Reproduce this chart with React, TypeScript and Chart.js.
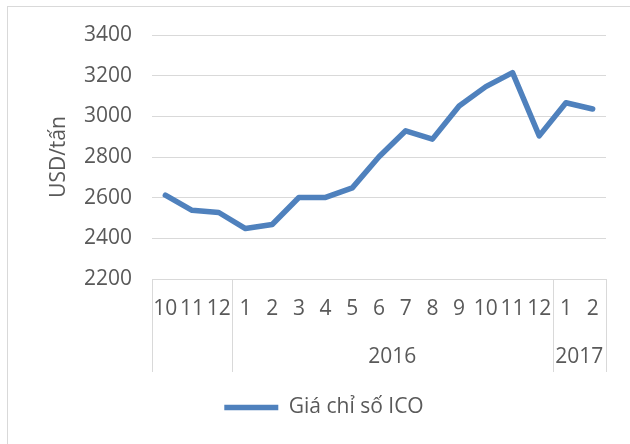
import React, { useEffect, useRef } from "react";
import { Chart, registerables } from "chart.js";

Chart.register(...registerables);

const months: string[] = ["10", "11", "12", "1", "2", "3", "4", "5", "6", "7", "8", "9", "10", "11", "12", "1", "2"];
const years: string[] = ["", "", "", "2016", "2016", "2016", "2016", "2016", "2016", "2016", "2016", "2016", "2016", "2016", "2016", "2017", "2017"];
const icoPrices: number[] = [2612, 2538, 2527, 2448, 2468, 2601, 2601, 2648, 2801, 2929, 2888, 3051, 3146, 3215, 2904, 3067, 3036];
const seriesName = "Giá chỉ số ICO";
const yTitle = "USD/tấn";
const yMin = 2200;
const yMax = 3400;
const yStep = 200;

const FONT = "'Open Sans', 'Noto Sans', sans-serif";
const TEXT = "#595959";
const GRID = "#d9d9d9";
const LINE = "#4F81BD";

const framePlugin = {
  id: "frame",
  beforeDraw(chart: any) {
    const ctx = chart.ctx;
    ctx.save();
    ctx.fillStyle = "#ffffff";
    ctx.fillRect(0, 0, chart.width, chart.height);
    ctx.strokeStyle = GRID;
    ctx.lineWidth = 1;
    ctx.strokeRect(7.5, 6.5, chart.width + 20, chart.height + 20);
    ctx.restore();
  },
};

const groupPlugin = {
  id: "yearGroups",
  afterDraw(chart: any) {
    const xs = chart.scales.x;
    const ctx = chart.ctx;
    const n = months.length;
    const half = (xs.getPixelForValue(1) - xs.getPixelForValue(0)) / 2;
    const groups: { label: string; start: number; end: number }[] = [];
    for (let i = 0; i < n; i++) {
      const last = groups[groups.length - 1];
      if (last && last.label === years[i]) last.end = i;
      else groups.push({ label: years[i], start: i, end: i });
    }
    ctx.save();
    ctx.strokeStyle = GRID;
    ctx.lineWidth = 1;
    const bounds = new Set<number>();
    groups.forEach((g) => {
      bounds.add(Math.round(xs.getPixelForValue(g.start) - half));
      bounds.add(Math.round(xs.getPixelForValue(g.end) + half));
    });
    bounds.forEach((bx) => {
      ctx.beginPath();
      ctx.moveTo(bx + 0.5, xs.top);
      ctx.lineTo(bx + 0.5, xs.bottom);
      ctx.stroke();
    });
    ctx.fillStyle = TEXT;
    ctx.font = `21px ${FONT}`;
    ctx.textAlign = "center";
    ctx.textBaseline = "middle";
    groups.forEach((g) => {
      if (!g.label) return;
      const cx = (xs.getPixelForValue(g.start) + xs.getPixelForValue(g.end)) / 2;
      ctx.fillText(g.label, cx, xs.top + 78);
    });
    ctx.restore();
  },
};

export default function App() {
  const ref = useRef<HTMLCanvasElement | null>(null);
  useEffect(() => {
    if (!ref.current) return;
    const chart = new Chart(ref.current, {
      type: "line",
      data: {
        labels: months,
        datasets: [
          {
            label: seriesName,
            data: icoPrices,
            borderColor: LINE,
            backgroundColor: LINE,
            borderWidth: 5.5,
            pointRadius: 0,
            pointHoverRadius: 0,
            tension: 0,
            borderCapStyle: "round",
            borderJoinStyle: "round",
          },
        ],
      },
      options: {
        animation: false,
        responsive: false,
        devicePixelRatio: 1,
        layout: { padding: { left: 42, right: 24, top: 35, bottom: 16 } },
        plugins: {
          tooltip: { enabled: false },
          legend: {
            position: "bottom",
            labels: {
              usePointStyle: true,
              pointStyle: "line",
              pointStyleWidth: 54,
              padding: 25,
              color: TEXT,
              font: { family: FONT, size: 21 },
            },
          },
        },
        scales: {
          x: {
            type: "category",
            offset: true,
            grid: { display: false, drawTicks: false },
            border: { display: true, color: GRID, width: 1 },
            ticks: {
              autoSkip: false,
              maxRotation: 0,
              minRotation: 0,
              padding: 17,
              color: TEXT,
              font: { family: FONT, size: 21 },
            },
            afterFit(scale: any) {
              scale.height = 93;
            },
          },
          y: {
            min: yMin,
            max: yMax,
            grid: { color: GRID, lineWidth: 1, drawTicks: false },
            border: { display: false },
            ticks: {
              stepSize: yStep,
              padding: 20,
              color: TEXT,
              font: { family: FONT, size: 21 },
              callback: (v: any) => String(v),
            },
            title: {
              display: true,
              text: yTitle,
              color: TEXT,
              font: { family: FONT, size: 21 },
              padding: { top: 4, bottom: 0 },
            },
            afterFit(scale: any) {
              scale.width = 110;
            },
          },
        },
      },
      plugins: [framePlugin, groupPlugin],
    });
    return () => chart.destroy();
  }, []);
  return (
    <div style={{ position: "absolute", left: 0, top: 0, width: 630, height: 444 }}>
      <canvas ref={ref} width={630} height={444} style={{ display: "block", width: 630, height: 444 }} />
    </div>
  );
}
